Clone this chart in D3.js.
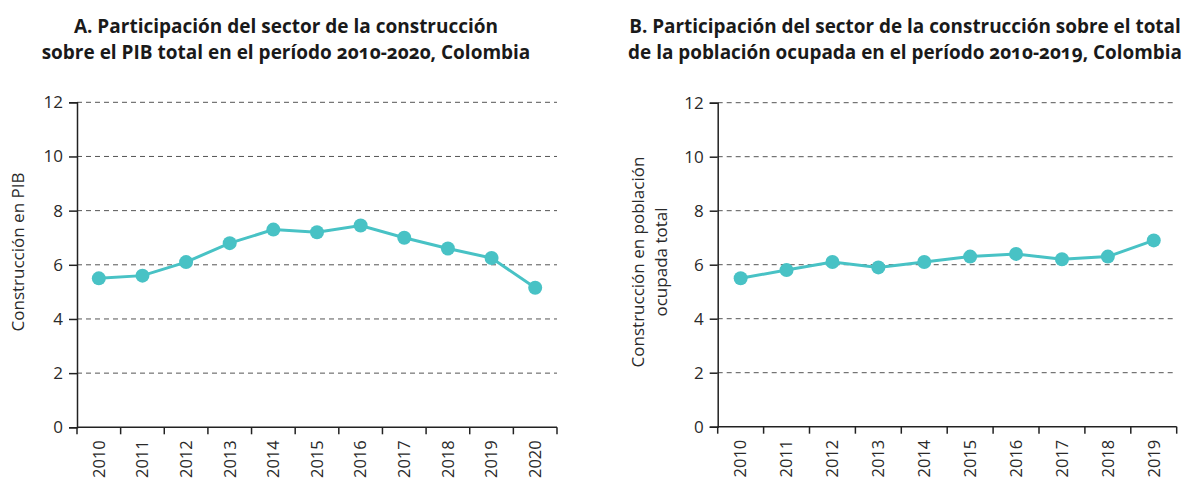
<!DOCTYPE html>
<html>
<head>
<meta charset="utf-8">
<script src="https://cdn.jsdelivr.net/npm/d3@7"></script>
<style>
  html, body { margin: 0; padding: 0; background: #fff; }
  svg { display: block; }
  .title { font-family: "Open Sans", "Noto Sans", sans-serif; font-weight: 700; font-size: 17px; fill: #1a1a1a; font-variant-numeric: oldstyle-nums; }
  .tick text, .ylabel { font-family: "Open Sans", "Noto Sans", sans-serif; font-weight: 400; fill: #2a2a2a; }
</style>
</head>
<body>
<svg id="chart" width="1185" height="482"></svg>
<script>
// Years and shares (%) for each panel
const yearsA = ["2010","2011","2012","2013","2014","2015","2016","2017","2018","2019","2020"];
const pibShare = [5.5, 5.6, 6.1, 6.8, 7.3, 7.2, 7.45, 7.0, 6.6, 6.25, 5.15];

const yearsB = ["2010","2011","2012","2013","2014","2015","2016","2017","2018","2019"];
const employmentShare = [5.5, 5.8, 6.1, 5.9, 6.1, 6.3, 6.4, 6.2, 6.3, 6.9];

const yTicks = [0, 2, 4, 6, 8, 10, 12];

const titleA = ["A. Participación del sector de la construcción",
                "sobre el PIB total en el período 2010-2020, Colombia"];
const titleB = ["B. Participación del sector de la construcción sobre el total",
                "de la población ocupada en el período 2010-2019, Colombia"];
const ylabelA = ["Construcción en PIB"];
const ylabelB = ["Construcción en población", "ocupada total"];

const svg = d3.select("#chart");
const teal = "#48c2c5";

function panel(opts) {
  const { years, values, left, right, top, bottom, title, titleX, titleW, ylabel, ylabelX, ylabelY } = opts;

  const x = d3.scaleBand().domain(years).range([left, right]);
  const y = d3.scaleLinear().domain([0, 12]).range([bottom, top]);

  const g = svg.append("g");

  // dashed horizontal gridlines
  g.append("g").selectAll("line")
    .data(yTicks.filter(t => t > 0))
    .join("line")
    .attr("x1", left).attr("x2", right)
    .attr("y1", d => y(d)).attr("y2", d => y(d))
    .attr("stroke", "#555").attr("stroke-width", 1)
    .attr("stroke-dasharray", "5,4");

  // y axis
  const yAxis = g.append("g")
    .attr("transform", `translate(${left},0)`)
    .call(d3.axisLeft(y).tickValues(yTicks).tickSize(8).tickPadding(6));
  yAxis.select(".domain").attr("stroke", "#222").attr("stroke-width", 1.5);
  yAxis.selectAll(".tick line").attr("stroke", "#222").attr("stroke-width", 1.5);
  yAxis.selectAll(".tick text").attr("font-size", 17);

  // x axis: ticks on band edges, labels rotated at band centres
  const xAxis = g.append("g")
    .attr("transform", `translate(0,${bottom})`);
  xAxis.append("line")
    .attr("x1", left).attr("x2", right)
    .attr("stroke", "#222").attr("stroke-width", 1.5);
  const edges = years.map(d => x(d)).concat([right]);
  xAxis.selectAll("line.edge")
    .data(edges)
    .join("line")
    .attr("class", "edge")
    .attr("x1", d => d).attr("x2", d => d)
    .attr("y1", 0).attr("y2", 7)
    .attr("stroke", "#222").attr("stroke-width", 1.5);
  xAxis.append("g").attr("class", "tick").selectAll("text")
    .data(years)
    .join("text")
    .attr("transform", d => `translate(${x(d) + x.bandwidth() / 2},13) rotate(-90)`)
    .attr("text-anchor", "end")
    .attr("dy", "0.35em")
    .attr("font-size", 16.5)
    .text(d => d);

  // series line and markers
  const pts = years.map((d, i) => [x(d) + x.bandwidth() / 2, y(values[i])]);
  g.append("path")
    .attr("d", d3.line()(pts))
    .attr("fill", "none")
    .attr("stroke", teal)
    .attr("stroke-width", 3);
  g.append("g").selectAll("circle")
    .data(pts)
    .join("circle")
    .attr("cx", d => d[0]).attr("cy", d => d[1])
    .attr("r", 7)
    .attr("fill", teal);

  // title, two centred lines sized to the panel width
  const t = g.append("text").attr("class", "title").attr("text-anchor", "middle");
  title.forEach((line, i) => {
    t.append("tspan").attr("x", titleX).attr("y", 33 + i * 26).text(line);
  });
  const widest = d3.max(t.selectAll("tspan").nodes(), n => n.getComputedTextLength());
  t.style("font-size", (17 * titleW / widest) + "px");

  // y axis label
  const yl = g.append("text")
    .attr("class", "ylabel")
    .attr("font-size", 17)
    .attr("text-anchor", "middle")
    .attr("transform", `translate(${ylabelX},${ylabelY}) rotate(-90)`);
  ylabel.forEach((line, i) => {
    yl.append("tspan").attr("x", 0).attr("y", i * 23).text(line);
  });
}

panel({
  years: yearsA, values: pibShare,
  left: 77, right: 557, top: 102.3, bottom: 427.3,
  title: titleA, titleX: 286, titleW: 489,
  ylabel: ylabelA, ylabelX: 24, ylabelY: 252
});

panel({
  years: yearsB, values: employmentShare,
  left: 717.7, right: 1176.7, top: 102.7, bottom: 426.7,
  title: titleB, titleX: 905, titleW: 554,
  ylabel: ylabelB, ylabelX: 644, ylabelY: 262
});
</script>
</body>
</html>
